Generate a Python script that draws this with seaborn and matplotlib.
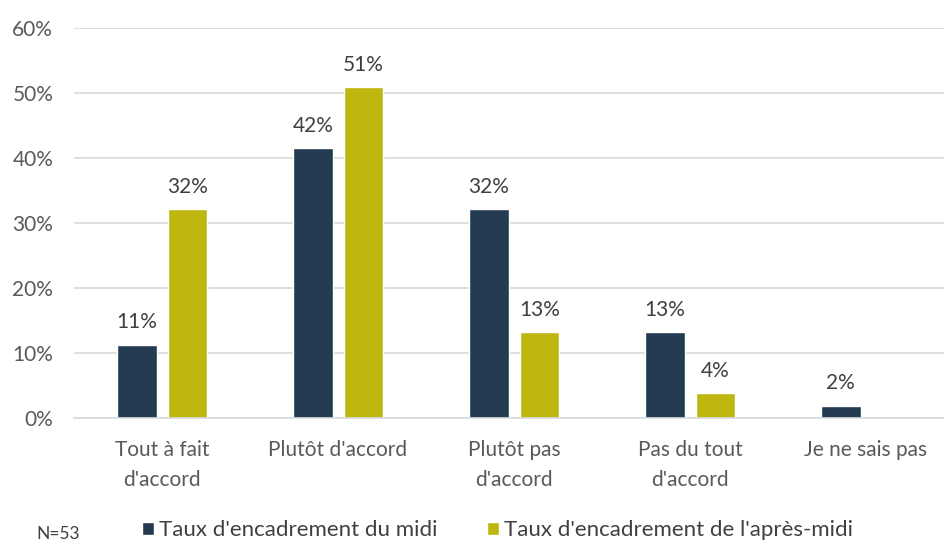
import pandas as pd
import matplotlib.pyplot as plt
import seaborn as sns

# --- data (N=53 respondents) ---
categories = ["Tout à fait\nd'accord", "Plutôt d'accord", "Plutôt pas\nd'accord",
              "Pas du tout\nd'accord", "Je ne sais pas"]
series_names = ["Taux d'encadrement du midi", "Taux d'encadrement de l'après-midi"]
midi = [11.3, 41.5, 32.1, 13.2, 1.9]
apres_midi = [32.1, 50.9, 13.2, 3.8, 0.0]
y_ticks = [0, 10, 20, 30, 40, 50, 60]
note = "N=53"

colors = ["#243A50", "#BFB70F"]

df = pd.DataFrame({
    "categorie": categories * 2,
    "serie": [series_names[0]] * len(categories) + [series_names[1]] * len(categories),
    "valeur": midi + apres_midi,
})

sns.set_style("white")
plt.rcParams['font.family'] = ['Lato', 'DejaVu Sans']

fig = plt.figure(figsize=(9.44, 5.42), dpi=100)
ax = fig.add_axes([0.0784, 0.2288, 0.9216, 0.7196])

sns.barplot(data=df, x="categorie", y="valeur", hue="serie", order=categories,
            hue_order=series_names, palette=colors, width=0.574, gap=0.218,
            saturation=1, legend=True, ax=ax)

# value labels above bars, skip empty bars
for container in ax.containers:
    labels = [f"{v:.0f}%" if v > 0 else "" for v in container.datavalues]
    ax.bar_label(container, labels=labels, padding=9, fontsize=15, color="#404040")

ax.set_ylim(0, 60)
ax.set_xlim(-0.5, 4.443)
ax.set_yticks(y_ticks)
ax.set_yticklabels([f"{t}%" for t in y_ticks], fontsize=15, color="#595959")
ax.tick_params(axis="x", labelsize=15, labelcolor="#595959", length=0, pad=16)
ax.tick_params(axis="y", length=0, pad=15)
for lab in ax.get_xticklabels():
    lab.set_linespacing(1.6)
ax.set_xlabel("")
ax.set_ylabel("")
ax.grid(axis="y", color="#D9D9D9", linewidth=1.2)
ax.set_axisbelow(True)
for side in ["top", "right", "left"]:
    ax.spines[side].set_visible(False)
ax.spines["bottom"].set_color("#D9D9D9")
ax.spines["bottom"].set_linewidth(1.2)

handles, labels = ax.get_legend_handles_labels()
ax.get_legend().remove()
fig.legend(handles, labels, loc="center", bbox_to_anchor=(0.527, 0.022), ncol=2,
           frameon=False, fontsize=16, handlelength=0.55, handleheight=0.55,
           handletextpad=0.25, columnspacing=2.2, labelcolor="#404040",
           borderpad=0.1)
fig.text(0.039, 0.0, note, fontsize=12.5, color="#404040", ha="left", va="bottom")

fig.savefig("out.png", dpi=100)
